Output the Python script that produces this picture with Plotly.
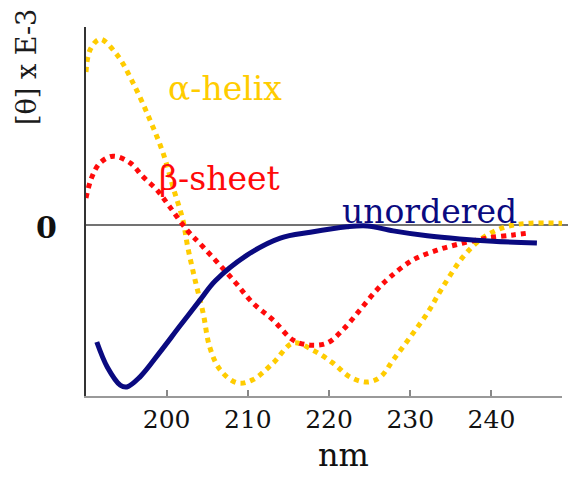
import plotly.graph_objects as go

# Wavelength (nm) and mean residue ellipticity [θ] x E-3 for three reference spectra
helix_nm = [190.07, 190.57, 191.8, 193.9, 195.86, 197.96, 199.56, 200.79, 202.0, 202.6,
            203.5, 204.5, 205.3, 206.6, 208.7, 210.6, 213.1, 215.6, 218.0, 220.5,
            222.6, 224.7, 226.3, 227.9, 230.0, 232.1, 234.0, 236.5, 238.6, 240.7,
            242.7, 244.8, 248.7]
helix_theta = [34.0, 38.9, 41.3, 37.8, 31.6, 23.3, 16.0, 8.4, 1.1, -4.9,
               -12.2, -19.6, -27.1, -32.2, -35.1, -34.4, -30.7, -26.2, -27.8, -30.7,
               -33.8, -34.9, -33.8, -30.0, -24.9, -19.6, -13.8, -7.1, -3.3, -1.1,
               0.0, 0.4, 0.4]

sheet_nm = [190.07, 190.8, 191.8, 193.4, 195.5, 197.1, 198.8, 200.4, 202.5, 204.5,
            208.2, 210.6, 213.1, 215.6, 217.7, 219.8, 221.7, 223.8, 225.9, 227.5,
            230.3, 233.3, 236.5, 239.5, 242.7, 244.5]
sheet_theta = [6.0, 10.7, 13.8, 15.3, 13.8, 10.7, 7.8, 4.0, -1.1, -4.9,
               -12.2, -17.3, -21.1, -25.6, -26.7, -26.2, -23.3, -18.9, -14.4, -11.6,
               -7.8, -5.6, -4.0, -2.9, -2.2, -1.8]

coil_nm = [191.4, 192.7, 194.3, 195.1, 196.7, 199.2, 201.65, 204.1, 206.0,
           209.9, 214.0, 217.7, 222.2, 224.7, 227.9, 232.1, 236.1, 240.2,
           245.6]
coil_theta = [-26.0, -31.6, -35.6, -36.0, -33.8, -28.2, -22.4, -16.7, -12.4,
              -6.7, -2.9, -1.6, -0.4, -0.2, -1.3, -2.4, -3.1, -3.6,
              -4.0]

x_ticks = [200, 210, 220, 230, 240]
x_tick_text = ["200", "210", "220", "230", "240"]

GOLD = "#FFCC00"
RED = "#FF0A0A"
NAVY = "#0A0A80"
SERIF = "DejaVu Serif"

fig = go.Figure()
fig.add_trace(go.Scatter(x=helix_nm, y=helix_theta, mode="lines", line_shape="spline",
                         line=dict(color=GOLD, width=5, dash="dot"), name="α-helix"))
fig.add_trace(go.Scatter(x=sheet_nm, y=sheet_theta, mode="lines", line_shape="spline",
                         line=dict(color=RED, width=5, dash="dot"), name="β-sheet"))
fig.add_trace(go.Scatter(x=coil_nm, y=coil_theta, mode="lines", line_shape="spline",
                         line=dict(color=NAVY, width=5), name="unordered"))

# zero baseline running slightly past the plotting area
fig.add_shape(type="line", xref="paper", yref="y", x0=0, x1=1.0126, y0=0, y1=0,
              line=dict(color="#444444", width=1.5), layer="below")

annotations = [
    dict(text="α-helix", x=207.2, y=30.4, font=dict(family=SERIF, size=33, color=GOLD)),
    dict(text="β-sheet", x=206.45, y=10.4, font=dict(family=SERIF, size=33, color=RED)),
    dict(text="unordered", x=232.4, y=3.1, font=dict(family=SERIF, size=33, color=NAVY)),
]
for a in annotations:
    fig.add_annotation(xref="x", yref="y", showarrow=False, xanchor="center",
                       yanchor="middle", **a)

fig.add_annotation(text="<b>0</b>", xref="paper", yref="y", x=-0.0567, y=-0.6,
                   xanchor="right", yanchor="middle", showarrow=False,
                   font=dict(family=SERIF, size=30, color="#111111"))
fig.add_annotation(text="[θ] x E-3", xref="paper", yref="paper", x=-0.124, y=0.8916,
                   xanchor="center", yanchor="middle", textangle=-90, showarrow=False,
                   font=dict(family=SERIF, size=27, color="#1a1a1a"))
fig.add_annotation(text="nm", xref="paper", yref="paper", x=0.54, y=-0.16,
                   xanchor="center", yanchor="middle", showarrow=False,
                   font=dict(family=SERIF, size=32, color="#111111"))

fig.update_layout(
    width=568, height=484,
    margin=dict(l=86, r=6, t=27, b=88),
    paper_bgcolor="white", plot_bgcolor="white",
    showlegend=False,
    xaxis=dict(range=[190.07, 248.69], tickvals=x_ticks, ticktext=x_tick_text,
               ticks="inside", ticklen=6, tickcolor="#888888", tickwidth=1.5,
               showline=True, linecolor="#999999", linewidth=2,
               showgrid=False, zeroline=False,
               tickfont=dict(family=SERIF, size=25, color="#111111")),
    yaxis=dict(range=[-38, 44], showticklabels=False, ticks="",
               showline=True, linecolor="#333333", linewidth=1.5,
               showgrid=False, zeroline=False),
)

fig.write_html("out.html")
